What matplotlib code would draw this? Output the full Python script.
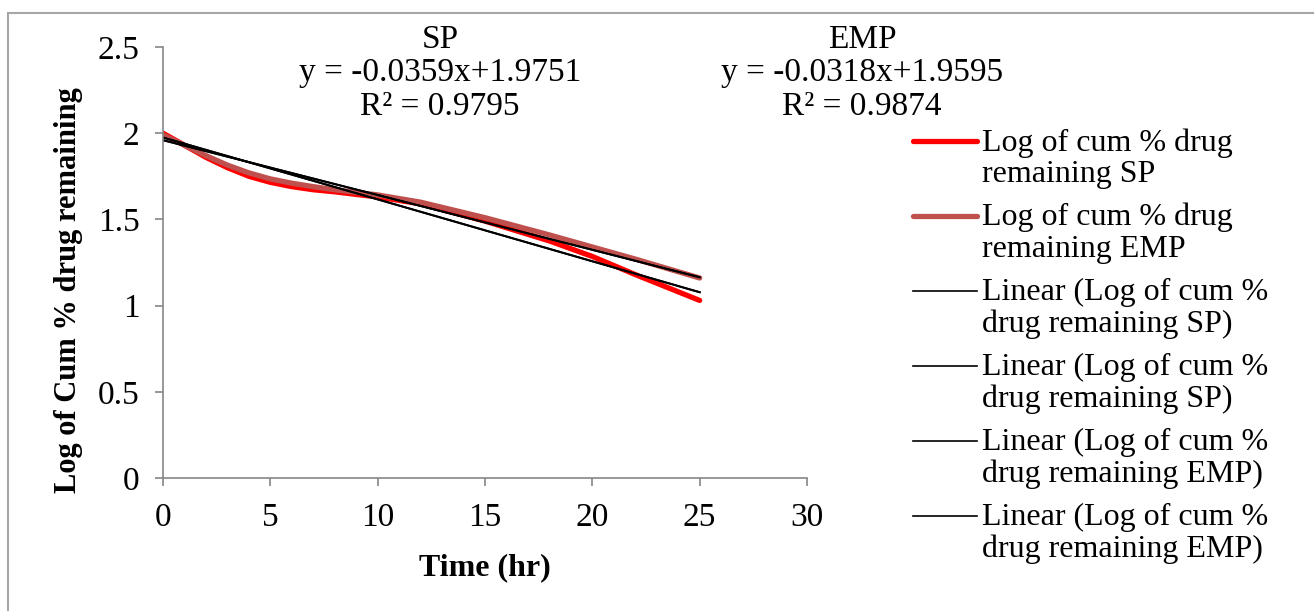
import numpy as np
import matplotlib.pyplot as plt
from matplotlib.patches import Rectangle
from matplotlib.legend_handler import HandlerLine2D

plt.rcParams['font.family'] = ['Liberation Serif', 'DejaVu Serif']

# Tiempo (hr)
time = [0, 1, 2, 3, 4, 5, 6, 7, 8, 10, 12, 15, 18, 20, 22, 25]
# Log of cum % drug remaining
log_sp = [2.00, 1.93, 1.86, 1.80, 1.75, 1.715, 1.69, 1.672, 1.66, 1.63, 1.59,
          1.49, 1.375, 1.285, 1.18, 1.03]
log_emp = [1.99, 1.93, 1.87, 1.815, 1.77, 1.735, 1.71, 1.69, 1.672, 1.642, 1.60,
           1.51, 1.41, 1.34, 1.27, 1.16]

# trend lines (slope, intercept)
fit_sp = (-0.0359, 1.9751)
fit_emp = (-0.0318, 1.9595)
r2_sp = 0.9795
r2_emp = 0.9874


class TopHandler(HandlerLine2D):
    # pone la muestra de la linea a la altura de la primera linea del texto
    def create_artists(self, legend, orig_handle, xdescent, ydescent,
                       width, height, fontsize, trans):
        arts = super().create_artists(legend, orig_handle, xdescent, ydescent,
                                      width, height, fontsize, trans)
        for a in arts:
            a.set_ydata(np.asarray(a.get_ydata()) + 0.55 * fontsize)
        return arts


fig = plt.figure(figsize=(13.14, 6.11), dpi=100)
ax = fig.add_axes([163/1314, 1 - 478/611, (807-163)/1314, (478-47)/611])

grey = '#868686'
fs = 24

l1, = ax.plot(time, log_sp, color='#FF0000', lw=3.8, solid_capstyle='round',
              solid_joinstyle='round', label='Log of cum % drug\nremaining SP')
l2, = ax.plot(time, log_emp, color='#C0504D', lw=3.8, solid_capstyle='round',
              solid_joinstyle='round', label='Log of cum % drug\nremaining EMP')

xt = np.array([time[0], time[-1]])
t1, = ax.plot(xt, fit_sp[0]*xt + fit_sp[1], color='black', lw=1.4,
              label='Linear (Log of cum %\ndrug remaining SP)')
t2, = ax.plot(xt, fit_sp[0]*xt + fit_sp[1], color='black', lw=1.4,
              label='Linear (Log of cum %\ndrug remaining SP)')
t3, = ax.plot(xt, fit_emp[0]*xt + fit_emp[1], color='black', lw=1.4,
              label='Linear (Log of cum %\ndrug remaining EMP)')
t4, = ax.plot(xt, fit_emp[0]*xt + fit_emp[1], color='black', lw=1.4,
              label='Linear (Log of cum %\ndrug remaining EMP)')

ax.set_xlim(0, 30)
ax.set_ylim(0, 2.5)
ax.set_xticks(range(0, 31, 5))
ax.set_yticks([0, 0.5, 1, 1.5, 2, 2.5])
ax.set_yticklabels(['0', '0.5', '1', '1.5', '2', '2.5'])
for s in ['top', 'right']:
    ax.spines[s].set_visible(False)
for s in ['left', 'bottom']:
    ax.spines[s].set_color(grey)
    ax.spines[s].set_linewidth(1.2)
ax.tick_params(direction='out', length=6, width=1.2, color=grey,
               labelsize=fs, labelcolor='black')
ax.tick_params(axis='y', pad=11)
ax.tick_params(axis='x', pad=12)

ax.set_xlabel('Time (hr)', fontsize=23, fontweight='bold', labelpad=14)
ax.set_ylabel('Log of Cum % drug remaining', fontsize=22, fontweight='bold')
ax.yaxis.set_label_coords((83 - 163)/644, (478 - 290)/431)

fig.text(440/1314, 1 - 24/611,
         'SP\ny = %.4fx+%.4f\nR² = %.4f' % (fit_sp[0], fit_sp[1], r2_sp),
         ha='center', va='top', fontsize=fs, linespacing=1.13)
fig.text(862/1314, 1 - 24/611,
         'EMP\ny = %.4fx+%.4f\nR² = %.4f' % (fit_emp[0], fit_emp[1], r2_emp),
         ha='center', va='top', fontsize=fs, linespacing=1.13)

leg = fig.legend(handles=[l1, l2, t1, t2, t3, t4], loc='upper left',
                 bbox_to_anchor=(913/1314, 1 - 128/611), frameon=False,
                 fontsize=23, handlelength=2.0, handletextpad=0.15,
                 labelspacing=0.43, borderaxespad=0, borderpad=0,
                 handler_map={plt.Line2D: TopHandler()})
for t in leg.get_texts():
    t.set_linespacing(1.12)
for line in leg.get_lines()[2:]:
    line.set_linewidth(1.2)

# marco exterior gris
fig.patches.append(Rectangle((8/1314, -0.1), 1.2, 1.1 - 13/611,
                             transform=fig.transFigure, fill=False,
                             edgecolor='#A6A6A6', lw=1.5))

plt.savefig('out.png', dpi=100)
